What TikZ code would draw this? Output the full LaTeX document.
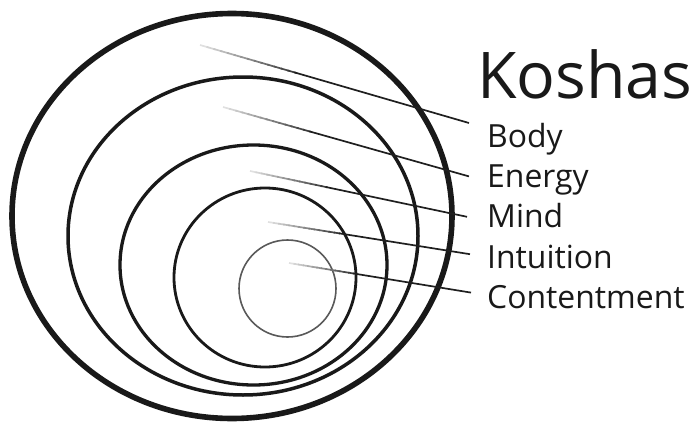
\documentclass[tikz,border=0pt]{standalone}
\usepackage{fontspec}
\setmainfont{Open Sans}
\usetikzlibrary{positioning,calc}

\begin{document}
\begin{tikzpicture}[
    x=1pt, y=-1pt,
    shell/.style={draw=black!90, line width=3.3pt},
    kosha/.style={font=\fontsize{31.9}{38}\selectfont, text=black!90, inner sep=0pt, text height=22pt, text depth=8pt},
    title/.style={font=\fontsize{64.4}{77}\selectfont, text=black!90, inner sep=0pt, anchor=base west},
    leader/.style={line width=1.7pt}
]
  \useasboundingbox (0,0) rectangle (694,423);

  \coordinate (annamaya) at (232,216);
  \coordinate (pranamaya) at (243,236);
  \coordinate (manomaya) at (253.5,265);
  \coordinate (vijnanamaya) at (265,277.5);
  \coordinate (anandamaya) at (287.5,288.5);

  \draw[shell, line width=5.6pt] (annamaya) ellipse [x radius=220, y radius=202.5];
  \draw[shell, line width=3.5pt] (pranamaya) ellipse [x radius=175, y radius=159];
  \draw[shell] (manomaya) ellipse [x radius=133.5, y radius=120];
  \draw[shell, line width=2.8pt] (vijnanamaya) ellipse [x radius=91, y radius=89.5];
  \draw[shell, draw=black!65, line width=1.6pt] (anandamaya) circle [radius=48.5];

  \node[title] (koshas) at (477,98) {Koshas};
  \node[kosha, anchor=base west] (body) at (487,147) {Body};
  \node[kosha, below=10pt of body.south west, anchor=north west] (energy) {Energy};
  \node[kosha, below=10pt of energy.south west, anchor=north west] (mind) {Mind};
  \node[kosha, below=10pt of mind.south west, anchor=north west] (intuition) {Intuition};
  \node[kosha, below=10pt of intuition.south west, anchor=north west] (contentment) {Contentment};

  \coordinate (bodyfrom) at (200,45);
  \coordinate (energyfrom) at (223,107);
  \coordinate (mindfrom) at (250,171);
  \coordinate (intuitionfrom) at (268,222);
  \coordinate (contentmentfrom) at (289,263);
  \coordinate (bodyto) at ([xshift=-18pt, yshift=17pt]body.west);
  \coordinate (energyto) at ([xshift=-18pt, yshift=4pt]energy.west);
  \coordinate (mindto) at ([xshift=-20pt, yshift=4pt]mind.west);
  \coordinate (intuitionto) at ([xshift=-17pt, yshift=7pt]intuition.west);
  \coordinate (contentmentto) at ([xshift=-16pt, yshift=9pt]contentment.west);

  \foreach \s/\e in {bodyfrom/bodyto, energyfrom/energyto, mindfrom/mindto, intuitionfrom/intuitionto, contentmentfrom/contentmentto} {
    \foreach \k in {0,...,13} {
      \pgfmathtruncatemacro\shade{12+\k*5}
      \pgfmathsetmacro\fa{\k*0.025}
      \pgfmathsetmacro\fb{(\k+1.3)*0.025}
      \draw[leader, black!\shade] ($(\s)!\fa!(\e)$) -- ($(\s)!\fb!(\e)$);
    }
    \draw[leader, black!88] ($(\s)!0.35!(\e)$) -- (\e);
  }
\end{tikzpicture}
\end{document}
